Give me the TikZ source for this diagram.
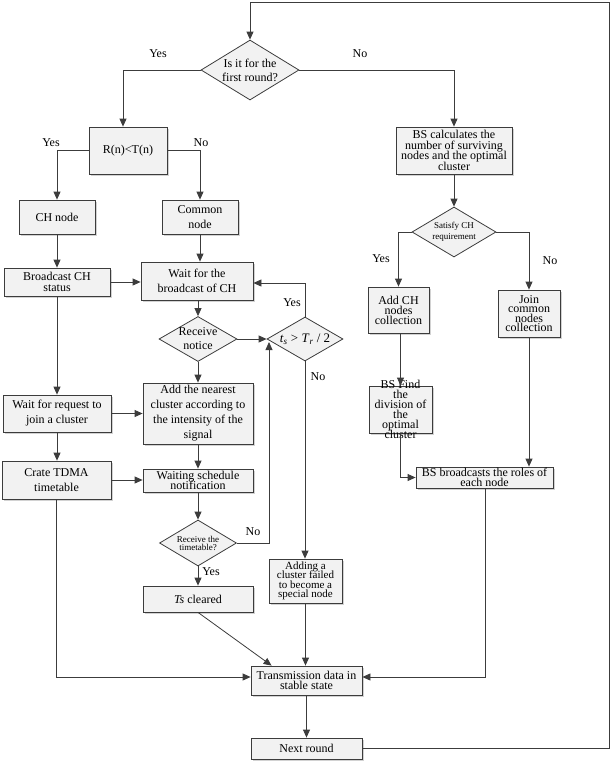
\documentclass[tikz,border=0pt]{standalone}
\usepackage{fontspec}
\setmainfont{Liberation Serif}
\usetikzlibrary{shapes.geometric,arrows.meta,shadows,calc}
\definecolor{linec}{RGB}{60,60,60}
\definecolor{boxfill}{RGB}{242,242,242}
\definecolor{shad}{RGB}{165,165,165}
\newcommand{\spc}[2]{\fontsize{#1}{#2}\selectfont\lineskiplimit=-30pt\relax}
\begin{document}
\begin{tikzpicture}[x=1pt,y=-1pt,
  conn/.style={draw=linec, line width=0.8pt, -{Triangle[length=8pt,width=7pt]}},
  boxb/.style={rectangle, draw=linec, fill=boxfill, line width=0.8pt, inner sep=0pt, align=center,
    drop shadow={shadow xshift=1.5pt, shadow yshift=-1.5pt, fill=shad}},
  bare/.style={rectangle, inner sep=0pt, align=center},
  dia/.style={diamond, draw=linec, fill=boxfill, line width=0.8pt, inner sep=0pt, align=center, aspect=1.7},
  lab/.style={inner sep=0pt, font=\spc{12}{14}}
]
\useasboundingbox (0,0) rectangle (611,761);

% ---------- nodes ----------
\node[dia, font=\spc{12}{14}, minimum width=98pt, minimum height=60pt] (d1) at (250,70) {Is it for the\\first round?};
\node[boxb, font=\spc{12}{14}, minimum width=78pt, minimum height=47pt] (rn) at (128,150.5) {R(n)<T(n)};
\node[boxb, font=\spc{12}{10.5}, minimum width=116pt, minimum height=47pt] (bsc) at (454,150.5) {BS calculates the\\number of surviving\\nodes and the optimal\\cluster};
\node[boxb, font=\spc{12}{15}, minimum width=76pt, minimum height=34pt] (ch) at (57,217) {CH node};
\node[boxb, font=\spc{12}{15}, minimum width=76pt, minimum height=34pt] (com) at (200,217) {Common\\node};
\node[boxb, font=\spc{12}{11}, minimum width=106pt, minimum height=28pt] (bch) at (57,282) {Broadcast CH\\status};
\node[boxb, font=\spc{12}{15}, minimum width=112pt, minimum height=38pt] (wfb) at (197,281) {Wait for the\\broadcast of CH};
\node[dia, font=\spc{12}{14}, minimum width=78pt, minimum height=45pt] (rcv) at (198,339) {Receive\\notice};
\node[dia, font=\spc{13}{14}, minimum width=76pt, minimum height=44pt] (ts) at (305,339) {\textit{t}\textsubscript{\textit{s}} > \textit{T}\textsubscript{\textit{r}} / 2};
\node[dia, font=\spc{9}{11}, minimum width=84pt, minimum height=50pt] (sat) at (454,232) {Satisfy CH\\requirement};
\node[boxb, font=\spc{12}{10}, minimum width=61pt, minimum height=46pt] (addch) at (398.5,310) {Add CH\\nodes\\collection};
\node[boxb, font=\spc{12}{9.5}, minimum width=62pt, minimum height=47pt] (join) at (529,313.5) {Join\\common\\nodes\\collection};
\node[boxb, font=\spc{12}{15}, minimum width=108pt, minimum height=37pt] (wrq) at (57,413.5) {Wait for request to\\join a cluster};
\node[boxb, font=\spc{12}{15}, minimum width=110pt, minimum height=61pt] (addn) at (198,413.5) {Add the nearest\\cluster according to\\the intensity of the\\signal};
\node[boxb, minimum width=63pt, minimum height=47pt] (bsf) at (400.5,409.5) {};
\node[bare, font=\spc{12}{10}] (bsft) at (400.5,409) {BS Find\\the\\division of\\the\\optimal\\cluster};
\node[boxb, font=\spc{12}{15}, minimum width=109pt, minimum height=38pt] (crt) at (56.5,480) {Crate TDMA\\timetable};
\node[boxb, font=\spc{12}{9.5}, minimum width=110pt, minimum height=23pt] (wsn) at (198,480.5) {Waiting schedule\\notification};
\node[boxb, font=\spc{12}{9.5}, minimum width=137pt, minimum height=21pt] (bsb) at (484.5,477.5) {BS broadcasts the roles of\\each node};
\node[dia, font=\spc{9}{8}, minimum width=77pt, minimum height=46pt] (rtt) at (198,543) {Receive the\\timetable?};
\node[boxb, font=\spc{11}{9.5}, minimum width=73pt, minimum height=44pt] (add) at (305.5,581) {Adding a\\cluster failed\\to become a\\special node};
\node[boxb, font=\spc{12}{14}, minimum width=110pt, minimum height=26pt] (tsc) at (198,599) {\textit{Ts} cleared};
\node[boxb, font=\spc{12}{10}, minimum width=111pt, minimum height=29pt] (trn) at (306.5,680.5) {Transmission data in\\stable state};
\node[boxb, font=\spc{12}{14}, minimum width=111pt, minimum height=21pt] (nxt) at (306.5,748.5) {Next round};

% ---------- labels ----------
\node[lab] (l1) at (158,54) {Yes};
\node[lab] (l2) at (360,54) {No};
\node[lab] (l3) at (51,143) {Yes};
\node[lab] (l4) at (201,143) {No};
\node[lab] (l5) at (292,303) {Yes};
\node[lab] (l6) at (318,377) {No};
\node[lab] (l7) at (253,532) {No};
\node[lab] (l8) at (211,572) {Yes};
\node[lab] (l9) at (381,259) {Yes};
\node[lab] (l10) at (550,261) {No};

% ---------- connectors ----------
\coordinate (tl) at (250,2);
\coordinate (tr) at (609,2);
\coordinate (br) at (609,748.5);
\draw[conn] (nxt.east) -- (br) -- (tr) -- (tl) -- (d1.north);

\coordinate (c1) at (123,70);
\draw[conn] (d1.west) -- (c1) -- (c1 |- rn.north);
\draw[conn] (d1.east) -| (bsc.north);
\draw[conn] (rn.west) -| (ch.north);
\draw[conn] (rn.east) -| (com.north);
\draw[conn] (ch.south) -- (bch.north);
\draw[conn] (com.south) -- (com.south |- wfb.north);
\draw[conn] (bch.east) -- (wfb.west |- bch.east);
\draw[conn] (rcv.north |- wfb.south) -- (rcv.north);
\draw[conn] (rcv.east) -- (ts.west);
\coordinate (c2) at (305,283);
\draw[conn] (ts.north) -- (c2) -- (c2 -| wfb.east);
\draw[conn] (ts.south) -- (ts.south |- add.north);
\draw[conn] (rcv.south) -- (rcv.south |- addn.north);
\draw[conn] (bch.south) -- (bch.south |- wrq.north);
\draw[conn] (wrq.east) -- (wrq.east -| addn.west);
\draw[conn] (addn.south) -- (addn.south |- wsn.north);
\draw[conn] (wrq.south) -- (wrq.south |- crt.north);
\draw[conn] (crt.east) -- (crt.east -| wsn.west);
\draw[conn] (wsn.south) -- (wsn.south |- rtt.north);
\coordinate (c3) at (269,543);
\coordinate (c3t) at (269,342);
\draw[conn] (rtt.east) -- (c3) -- (c3t);
\draw[conn] (rtt.south) -- (rtt.south |- tsc.north);
\draw[conn] (tsc.south) -- ($(trn.north west)+(21,0)$);
\draw[conn] (add.south) -- (add.south |- trn.north);
\coordinate (c4) at (57,677);
\draw[conn] (crt.south) -- (crt.south |- c4) -- (trn.west |- c4);
\coordinate (c5) at (485,677);
\draw[conn] (bsb.south -| c5) -- (c5) -- (trn.east |- c5);
\draw[conn] (trn.south) -- (nxt.north);
\draw[conn] (bsc.south) -- (sat.north);
\draw[conn] (sat.west) -| (addch.north);
\draw[conn] (sat.east) -| (join.north);
\draw[conn] (bsf.north |- addch.south) -- (bsf.north);
\draw[conn] (bsf.south) -- (bsf.south |- bsb.west) -- (bsb.west);
\draw[conn] (join.south) -- (join.south |- bsb.north);
\end{tikzpicture}
\end{document}
